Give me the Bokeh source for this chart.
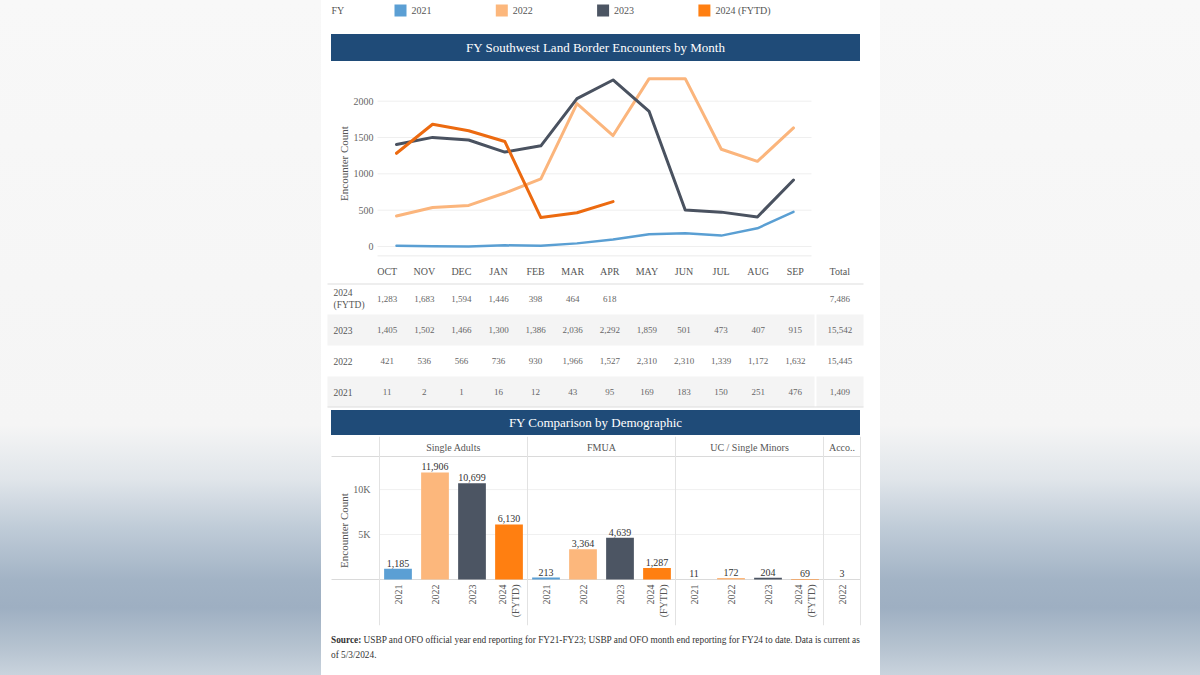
import math
from bokeh.plotting import figure
from bokeh.models import Range1d, FixedTicker, LinearAxis, Span, Div, Spacer, Label
from bokeh.layouts import column, row
from bokeh.core.properties import value
from bokeh.embed import file_html
from bokeh.resources import INLINE

# ---------------- data ----------------
months = ["OCT", "NOV", "DEC", "JAN", "FEB", "MAR", "APR", "MAY", "JUN", "JUL", "AUG", "SEP"]
fy_labels = ["2021", "2022", "2023", "2024 (FYTD)"]
enc_2021 = [11, 2, 1, 16, 12, 43, 95, 169, 183, 150, 251, 476]
enc_2022 = [421, 536, 566, 736, 930, 1966, 1527, 2310, 2310, 1339, 1172, 1632]
enc_2023 = [1405, 1502, 1466, 1300, 1386, 2036, 2292, 1859, 501, 473, 407, 915]
enc_2024 = [1283, 1683, 1594, 1446, 398, 464, 618]
line_ticks = [0, 500, 1000, 1500, 2000]

demo_groups = ["Single Adults", "FMUA", "UC / Single Minors", "Acco.."]
demo_years = [
    ["2021", "2022", "2023", "2024 (FYTD)"],
    ["2021", "2022", "2023", "2024 (FYTD)"],
    ["2021", "2022", "2023", "2024 (FYTD)"],
    ["2022"],
]
demo_values = [
    [1185, 11906, 10699, 6130],
    [213, 3364, 4639, 1287],
    [11, 172, 204, 69],
    [3],
]
bar_ticks = [5000, 10000]
bar_tick_labels = ["5K", "10K"]

title_month = "FY Southwest Land Border Encounters by Month"
title_demo = "FY Comparison by Demographic"
axis_title = "Encounter Count"
source_bold = "Source:"
source_line1 = ("USBP and OFO official year end reporting for FY21-FY23; USBP and OFO month end "
                "reporting for FY24 to date. Data is current as")
source_line2 = "of 5/3/2024."

# ---------------- styles / layout ----------------
fy_colors = {"2021": "#5b9fd4", "2022": "#fcb77c", "2023": "#4c5563", "2024 (FYTD)": "#ff7f11"}
line_colors = {"2021": "#5a9fd3", "2022": "#fbb57c", "2023": "#4a5260", "2024 (FYTD)": "#ec6a10"}
FONT = value("Liberation Serif")
FONT_NAME = "Liberation Serif"
FONT_CSS = "'Liberation Serif', 'Times New Roman', serif"
TITLE_BG = "#1f4b78"
W = 1200
FRAME_L, FRAME_R = 321, 880   # common frame for all figures (white panel)


def display(lbl):
    return lbl.replace(" (", "\n(")


class Map:
    """linear pixel <-> data mapping, defined by two anchors"""
    def __init__(self, d0, p0, d1, p1):
        self.d0, self.p0 = d0, p0
        self.s = (p1 - p0) / (d1 - d0)

    def __call__(self, px):
        return self.d0 + (px - self.p0) / self.s


def make_fig(height, top, bottom, xmap, ymap_or_range):
    xr = Range1d(xmap(FRAME_L), xmap(FRAME_R))
    if isinstance(ymap_or_range, Map):
        yr = Range1d(ymap_or_range(height - bottom + 0), ymap_or_range(top))
    else:
        yr = ymap_or_range
    p = figure(width=W, height=height, x_range=xr, y_range=yr,
               toolbar_location=None, output_backend="svg",
               x_axis_location=None, y_axis_location=None, title=None,
               min_border_left=FRAME_L, min_border_right=W - FRAME_R,
               min_border_top=top, min_border_bottom=bottom)
    p.border_fill_color = None
    p.background_fill_color = None
    p.outline_line_color = None
    p.xgrid.visible = False
    p.ygrid.visible = False
    return p


def style_axis(ax, standoff):
    ax.axis_line_color = None
    ax.major_tick_line_color = None
    ax.minor_tick_line_color = None
    ax.major_tick_out = 0
    ax.major_tick_in = 0
    ax.minor_tick_out = 0
    ax.minor_tick_in = 0
    ax.major_label_text_font = FONT_NAME
    ax.major_label_text_font_size = "10px"
    ax.major_label_text_color = "#666666"
    ax.major_label_standoff = standoff


def title_row(text, x, w, h):
    d = Div(text=(f'<div style="width:{w}px;height:{h}px;line-height:{h}px;background:{TITLE_BG};'
                  f'color:#ffffff;font-family:{FONT_CSS};font-size:13px;text-align:center;'
                  f'white-space:nowrap;">{text}</div>'),
            width=w, height=h, margin=0)
    return row(Spacer(width=x, height=h, margin=0), d, Spacer(width=W - x - w, height=h, margin=0))


# ---------------- legend (y 0..34) ----------------
LEG_Y0 = 0
lx = Map(0, 400, 1, 501.3)
p_leg = make_fig(34, 0, 0, lx, Range1d(-24, 10))
idx = list(range(len(fy_labels)))
p_leg.scatter(x=idx, y=[0] * len(idx), marker="square", size=12,
              fill_color=[fy_colors[k] for k in fy_labels], line_color=None)
p_leg.text(x=idx, y=[0] * len(idx), text=fy_labels, x_offset=11, text_font=FONT,
           text_font_size="10px", text_color="#555555", text_align="left", text_baseline="middle")
p_leg.text(x=[lx(331)], y=[0], text=["FY"], text_font=FONT, text_font_size="10px",
           text_color="#555555", text_align="left", text_baseline="middle")

# ---------------- line chart (y 61..262) ----------------
LINE_Y0 = 61
mx = Map(0, 396, 11, 793)
my = Map(0, 246 - LINE_Y0, 2000, 100.7 - LINE_Y0)
p_line = make_fig(201, 70 - LINE_Y0, 262 - 256, mx, my)
ya = LinearAxis(ticker=FixedTicker(ticks=line_ticks), fixed_location=mx(377))
style_axis(ya, 4)
p_line.add_layout(ya, "left")
p_line.segment(x0=mx(377), x1=mx(811), y0=line_ticks, y1=line_ticks, line_color="#efefef", line_width=1)
p_line.segment(x0=[mx(377)], x1=[mx(811)], y0=[my(255.5 - LINE_Y0)], y1=[my(255.5 - LINE_Y0)],
               line_color="#e4e4e4", line_width=1)
p_line.add_layout(Label(x=mx(343), y=my(163 - LINE_Y0), text=axis_title, angle=math.pi / 2,
                        text_font=FONT_NAME, text_font_size="11px", text_color="#555555",
                        text_align="center", text_baseline="middle"))
series = [("2021", enc_2021, 2.5), ("2022", enc_2022, 3), ("2023", enc_2023, 3), ("2024 (FYTD)", enc_2024, 3)]
for key, vals, lw in series:
    p_line.line(x=list(range(len(vals))), y=vals, line_color=line_colors[key], line_width=lw,
                line_join="round", line_cap="round")

# ---------------- table (y 262..410) ----------------
rows_top_down = ["2024 (FYTD)", "2023", "2022", "2021"]
row_vals = {"2024 (FYTD)": enc_2024, "2023": enc_2023, "2022": enc_2022, "2021": enc_2021}
tx_map = Map(0, 386.7, 11, 794.8)
total_x = tx_map(839.3)
n_rows = len(rows_top_down)
p_tab = make_fig(148, 283 - 262, 410 - 407, tx_map, Range1d(0, n_rows))
row_y = {r: n_rows - 0.5 - i for i, r in enumerate(rows_top_down)}

hdr = LinearAxis(ticker=FixedTicker(ticks=list(range(len(months))) + [total_x]))
ov = {i: m for i, m in enumerate(months)}
ov[total_x] = "Total"
hdr.major_label_overrides = ov
style_axis(hdr, 7)
hdr.major_label_text_color = "#555555"
p_tab.add_layout(hdr, "above")

x_div = tx_map(815)
gap = tx_map(816) - tx_map(815)
banded = [row_y[r] for i, r in enumerate(rows_top_down) if i % 2 == 1]
p_tab.hbar(y=banded, left=tx_map(327), right=x_div - gap, height=1, fill_color="#f4f4f4", line_color=None)
p_tab.hbar(y=banded, left=x_div + gap, right=tx_map(863), height=1, fill_color="#f4f4f4", line_color=None)
p_tab.segment(x0=tx_map(327), x1=tx_map(863), y0=[0, n_rows], y1=[0, n_rows],
              line_color="#dddddd", line_width=2)

tx, ty, tt = [], [], []
for r in rows_top_down:
    vals = row_vals[r]
    for i, v in enumerate(vals):
        tx.append(i); ty.append(row_y[r]); tt.append(f"{v:,}")
    tx.append(total_x); ty.append(row_y[r]); tt.append(f"{sum(vals):,}")
p_tab.text(x=tx, y=ty, text=tt, text_font=FONT, text_font_size="9px", text_color="#666666",
           text_align="center", text_baseline="middle")
p_tab.text(x=[tx_map(333)] * n_rows, y=[row_y[r] for r in rows_top_down],
           text=[display(r) for r in rows_top_down],
           text_font=FONT, text_font_size="9.5px", text_color="#555555",
           text_align="left", text_baseline="middle")

# ---------------- bar chart (y 435..630) ----------------
BAR_Y0 = 435
bx = Map(0, 397.5, 1, 434.5)
by = Map(0, 579 - BAR_Y0, 10000, 489.1 - BAR_Y0)
p_bar = make_fig(195, 436 - BAR_Y0, 630 - 625, bx, by)

bars_x, bars_top, bars_col, bars_year = [], [], [], []
group_centers, bounds = [], [-0.5]
pos = 0
for g, yrs, vals in zip(demo_groups, demo_years, demo_values):
    for j, (yr, v) in enumerate(zip(yrs, vals)):
        bars_x.append(pos + j); bars_top.append(v); bars_col.append(fy_colors[yr]); bars_year.append(yr)
    group_centers.append(pos + (len(yrs) - 1) / 2)
    pos += len(yrs)
    bounds.append(pos - 0.5)

p_bar.segment(x0=bounds[0], x1=bounds[-1], y0=bar_ticks, y1=bar_ticks, line_color="#f0f0f0", line_width=1)
hline_y = by(456 - BAR_Y0)
p_bar.segment(x0=[bx(331)] * 2, x1=[bounds[-1]] * 2, y0=[hline_y, 0], y1=[hline_y, 0],
              line_color="#dadada", line_width=1)
for b in bounds:
    p_bar.add_layout(Span(location=b, dimension="height", line_color="#e2e2e2", line_width=1))

p_bar.vbar(x=bars_x, top=bars_top, width=0.75, fill_color=bars_col, line_color=None)
p_bar.text(x=bars_x, y=bars_top, text=[f"{v:,}" for v in bars_top], y_offset=-2,
           text_font=FONT, text_font_size="10px", text_color="#333333",
           text_align="center", text_baseline="bottom")
p_bar.text(x=bars_x, y=[0] * len(bars_x), text=[display(y) for y in bars_year], y_offset=5,
           angle=math.pi / 2, text_font=FONT, text_font_size="10px", text_color="#555555",
           text_align="right", text_baseline="middle")
p_bar.text(x=group_centers, y=[by(447 - BAR_Y0)] * len(group_centers), text=demo_groups,
           text_font=FONT, text_font_size="10px", text_color="#555555",
           text_align="center", text_baseline="middle")

bya = LinearAxis(fixed_location=bounds[0], ticker=FixedTicker(ticks=bar_ticks),
                 major_label_overrides=dict(zip(bar_ticks, bar_tick_labels)))
style_axis(bya, 9)
p_bar.add_layout(bya, "left")
p_bar.add_layout(Label(x=bx(343), y=by(530 - BAR_Y0), text=axis_title, angle=math.pi / 2,
                       text_font=FONT_NAME, text_font_size="11px", text_color="#555555",
                       text_align="center", text_baseline="middle"))

# ---------------- source note (y 630..675) ----------------
src = Div(text=(f'<div style="font-family:{FONT_CSS};font-size:9.3px;color:#333333;line-height:15px;'
                f'padding-top:3px;white-space:nowrap;"><b>{source_bold}</b> {source_line1}<br>{source_line2}</div>'),
          width=545, height=45, margin=0)
src_row = row(Spacer(width=331, height=45, margin=0), src, Spacer(width=W - 331 - 545, height=45, margin=0))

bg = ("linear-gradient(to right, rgba(255,255,255,0) 321px, #ffffff 321px, #ffffff 880px, "
      "rgba(255,255,255,0) 880px), "
      "linear-gradient(to bottom, #f8f8f8 0%, #f5f5f5 63%, #e0e5ea 71%, #c0ccd8 78%, "
      "#a2b3c5 86%, #9eafc2 90%, #b6c3d0 96%, #c9d3dd 100%)")

root = column(p_leg, title_row(title_month, 331, 529, 27), p_line, p_tab,
              title_row(title_demo, 331, 529, 25), p_bar, src_row,
              styles={"background": bg})

open("out.html", "w").write(file_html(root, INLINE))
